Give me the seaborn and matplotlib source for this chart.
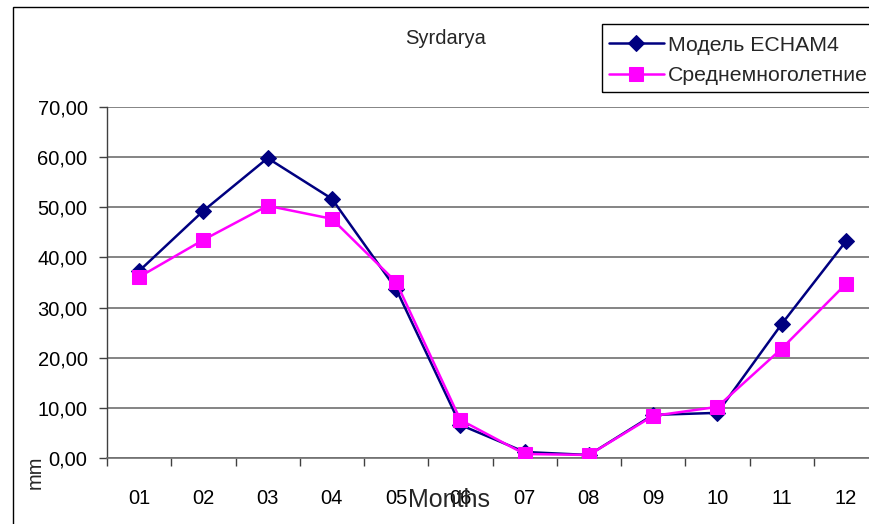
import matplotlib
matplotlib.use("Agg")
import matplotlib.pyplot as plt
from matplotlib.patches import Rectangle
from matplotlib.ticker import FixedLocator, FuncFormatter
import seaborn as sns
import pandas as pd

months = ["01", "02", "03", "04", "05", "06", "07", "08", "09", "10", "11", "12"]
echam4 = [37.3, 49.3, 59.8, 51.7, 33.7, 6.6, 1.2, 0.6, 8.6, 9.0, 26.7, 43.2]
long_term = [36.1, 43.5, 50.3, 47.7, 35.1, 7.6, 0.8, 0.6, 8.4, 10.2, 21.8, 34.7]
series_names = ["Модель ECHAM4", "Среднемноголетние"]

sns.set_style("white")
plt.rcParams["font.family"] = ["Liberation Sans", "DejaVu Sans"]

W, H = 869, 524
fig = plt.figure(figsize=(W / 100, H / 100), dpi=100)
fig.patch.set_facecolor("white")

# plot area (extends slightly past the right edge of the canvas)
x0, x1, y0, y1 = 107, 878, 107, 458
ax = fig.add_axes([x0 / W, 1 - y1 / H, (x1 - x0) / W, (y1 - y0) / H])

df = pd.DataFrame({"month": months, "echam": echam4, "mean": long_term})
pos = list(range(len(months)))

sns.lineplot(x=pos, y=df["echam"], ax=ax, color="#000080", linewidth=1.8,
             marker="D", markersize=8.5, markeredgecolor="#000080",
             markerfacecolor="#000080", label=series_names[0], zorder=3)
sns.lineplot(x=pos, y=df["mean"], ax=ax, color="#FF00FF", linewidth=1.8,
             marker="s", markersize=9.5, markeredgecolor="#FF00FF",
             markerfacecolor="#FF00FF", label=series_names[1], zorder=4)

ax.set_xlim(-0.5, len(months) - 0.5)
ax.set_ylim(0, 70)

# y axis
ax.set_yticks(range(0, 71, 10))
ax.yaxis.set_major_formatter(FuncFormatter(lambda v, p: f"{v:.2f}".replace(".", ",")))
ax.yaxis.grid(True, color="#707070", linewidth=1.2)
ax.tick_params(axis="y", which="major", left=True, length=6, width=1, color="#404040",
               pad=8, labelsize=14.5, labelcolor="black")

# x axis: labels centred, tick marks between categories
ax.xaxis.set_major_locator(FixedLocator(pos))
ax.set_xticklabels(months)
ax.xaxis.set_minor_locator(FixedLocator([p - 0.5 for p in pos] + [len(months) - 0.5]))
ax.tick_params(axis="x", which="major", bottom=True, length=0, pad=22,
               labelsize=14.5, labelcolor="black")
ax.tick_params(axis="x", which="minor", bottom=True, length=6, width=1, color="#404040")

for side in ["top", "right"]:
    ax.spines[side].set_visible(False)
ax.spines["left"].set_color("#404040")
ax.spines["bottom"].set_color("#707070")
ax.spines["left"].set_linewidth(1)
ax.spines["bottom"].set_linewidth(1.2)

ax.set_xlabel("Months", fontsize=18)
ax.xaxis.set_label_coords((449 - x0) / (x1 - x0), (y1 - 500) / (y1 - y0))
ax.xaxis.label.set_va("center")
ax.set_ylabel("mm", fontsize=14.5)
ax.yaxis.set_label_coords((35 - x0) / (x1 - x0), (y1 - 472) / (y1 - y0))
ax.yaxis.label.set_va("center")

fig.text(446 / W, 1 - 38 / H, "Syrdarya", ha="center", va="center", fontsize=14.5)

ax.get_legend().remove()
handles, labels = ax.get_legend_handles_labels()
leg = fig.legend(handles, labels, loc="upper left",
                 bbox_to_anchor=(598 / W, 1 - 25 / H), fontsize=15.3,
                 frameon=False, handlelength=2.6, handletextpad=0.2,
                 borderpad=0.5, labelspacing=0.55, borderaxespad=0)

# legend box, running off the right edge like the chart border
fig.patches.append(Rectangle((602 / W, 1 - 92 / H), 0.5, 68 / H,
                             transform=fig.transFigure, fill=False,
                             edgecolor="black", linewidth=1))

# outer chart border
fig.patches.append(Rectangle((13 / W, -0.5), 2, 1 - 7 / H + 0.5,
                             transform=fig.transFigure, fill=False,
                             edgecolor="black", linewidth=1))

fig.savefig("out.png", dpi=100)
